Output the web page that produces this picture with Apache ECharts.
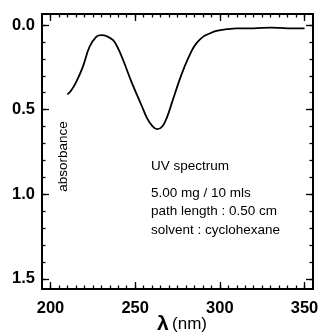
<!DOCTYPE html>
<html>
<head>
<meta charset="utf-8">
<script src="https://cdn.jsdelivr.net/npm/echarts@6/dist/echarts.min.js"></script>
<style>
html,body{margin:0;padding:0;background:#fff;}
#c{width:323px;height:336px;}
</style>
</head>
<body>
<div id="c"></div>
<script>
// Data
var wavelength = [210, 212, 215, 219, 223, 227, 230, 233, 237, 240, 243, 248, 254, 257, 260, 263, 266, 269, 272, 276, 279, 283, 286, 290, 294, 298, 304, 310, 320, 330, 340, 350];
var absorbance = [0.41, 0.39, 0.34, 0.25, 0.13, 0.07, 0.06, 0.065, 0.09, 0.14, 0.21, 0.34, 0.48, 0.55, 0.595, 0.615, 0.60, 0.54, 0.45, 0.33, 0.25, 0.16, 0.11, 0.07, 0.05, 0.035, 0.025, 0.02, 0.02, 0.015, 0.02, 0.02];
var xMajor = [200, 250, 300, 350];
var xMinor = [200,205,210,215,220,225,230,235,240,245,250,255,260,265,270,275,280,285,290,295,300,305,310,315,320,325,330,335,340,345,350];
var yMajor = [0, 0.5, 1.0, 1.5];
var yMinor = [0,0.1,0.2,0.3,0.4,0.5,0.6,0.7,0.8,0.9,1.0,1.1,1.2,1.3,1.4,1.5];
var notes = ['UV spectrum', '5.00 mg / 10 mls', 'path length : 0.50 cm', 'solvent : cyclohexane'];
var xName = ['λ', '(nm)'];
var yName = 'absorbance';

var FONT = 'Liberation Sans, Arial, Helvetica, sans-serif';
var XMIN = 195, XMAX = 355, YMIN = -0.065, YMAX = 1.56;

function xAx(pos, values, len, labels, line) {
  return {
    type: 'value', position: pos, min: XMIN, max: XMAX,
    axisLine: {show: line, onZero: false, lineStyle: {color: '#000', width: 2}},
    axisTick: {show: true, inside: true, length: len, customValues: values, lineStyle: {color: '#000', width: 1.3}},
    axisLabel: labels ? {show: true, customValues: xMajor, color: '#000', fontSize: 16.5, fontWeight: 'bold', fontFamily: FONT, margin: 11} : {show: false},
    splitLine: {show: false}
  };
}
function yAx(pos, values, len, labels, line) {
  return {
    type: 'value', position: pos, min: YMIN, max: YMAX, inverse: true,
    axisLine: {show: line, onZero: false, lineStyle: {color: '#000', width: 2}},
    axisTick: {show: true, inside: true, length: len, customValues: values, lineStyle: {color: '#000', width: 1.3}},
    axisLabel: labels ? {show: true, customValues: yMajor, color: '#000', fontSize: 16.5, fontWeight: 'bold', fontFamily: FONT, margin: 7,
      formatter: function(v){ return v.toFixed(1); }} : {show: false},
    splitLine: {show: false}
  };
}

var xAxes = [
  xAx('bottom', xMajor, 7, true, true),
  xAx('bottom', xMinor, 3.5, false, false),
  xAx('top', xMajor, 7, false, true),
  xAx('top', xMinor, 3.5, false, false)
];
xAxes[0].name = '{l|' + xName[0] + '} {n|' + xName[1] + '}';
xAxes[0].nameLocation = 'middle';
xAxes[0].nameGap = 25;
xAxes[0].nameMoveOverlap = false;
xAxes[0].nameTextStyle = {color: '#000', fontFamily: FONT, padding: [0, 0, 0, 9],
  rich: {l: {fontSize: 21, fontWeight: 'bold', fontFamily: FONT, color: '#000'},
         n: {fontSize: 17, fontFamily: FONT, color: '#000'}}};

var yAxes = [
  yAx('left', yMajor, 7, true, true),
  yAx('left', yMinor, 3.5, false, false),
  yAx('right', yMajor, 7, false, true),
  yAx('right', yMinor, 3.5, false, false)
];

var noteY = [166, 193, 211.5, 230];
var graphics = notes.map(function(t, i){
  return {type: 'text', x: 151, y: noteY[i],
    style: {text: t, fill: '#000', font: '13.5px ' + FONT, verticalAlign: 'middle', align: 'left'}};
});
graphics.push({type: 'text', x: 63, y: 156.5, rotation: Math.PI / 2,
  style: {text: yName, fill: '#000', font: '13.5px ' + FONT, verticalAlign: 'middle', align: 'center'}});

var chart = echarts.init(document.getElementById('c'), null, {renderer: 'canvas'});
chart.setOption({
  animation: false,
  backgroundColor: '#fff',
  grid: {left: 42, right: 10, top: 14, bottom: 47, containLabel: false, outerBoundsMode: 'none'},
  xAxis: xAxes,
  yAxis: yAxes,
  graphic: graphics,
  series: [{
    type: 'line', xAxisIndex: 0, yAxisIndex: 0,
    data: wavelength.map(function(w, i){ return [w, absorbance[i]]; }),
    smooth: 0.4, showSymbol: false, symbol: 'none',
    lineStyle: {color: '#000', width: 1.8}
  }]
});
</script>
</body>
</html>
